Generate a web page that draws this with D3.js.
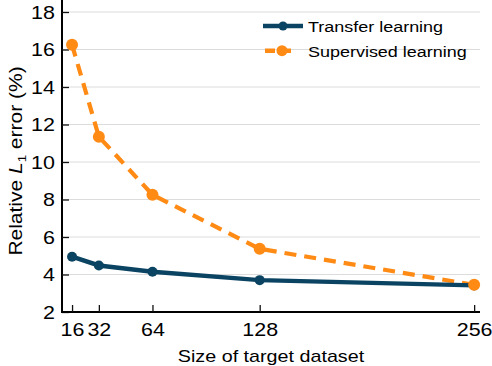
<!DOCTYPE html>
<html>
<head>
<meta charset="utf-8">
<script src="https://cdn.jsdelivr.net/npm/d3@7"></script>
<style>
  body { margin: 0; background: #fff; }
  text { font-family: "Liberation Sans", Arial, sans-serif; }
</style>
</head>
<body>
<div id="chart"></div>
<script>
// data
var sizes = [16, 32, 64, 128, 256];
var transfer = [4.95, 4.48, 4.15, 3.7, 3.42];
var supervised = [16.25, 11.35, 8.25, 5.37, 3.45];
var yTicks = [2, 4, 6, 8, 10, 12, 14, 16, 18];
var seriesNames = ["Transfer learning", "Supervised learning"];

var width = 492, height = 366;
var margin = {left: 62, right: 12, top: 4, bottom: 54};
var stretch = 1.13; // the original font is wider than Arial

var svg = d3.select("#chart").append("svg")
    .attr("width", width)
    .attr("height", height);

var x = d3.scaleLinear().domain([10, 259.5]).range([margin.left, width - margin.right]);
var y = d3.scaleLinear().domain([2, 18]).range([height - margin.bottom, 12]);

// grid
svg.append("g")
    .selectAll("line")
    .data(yTicks.slice(1))
    .enter().append("line")
    .attr("x1", margin.left)
    .attr("x2", width - margin.right)
    .attr("y1", function(d){ return y(d); })
    .attr("y2", function(d){ return y(d); })
    .attr("stroke", "#dcdcdc")
    .attr("stroke-width", 1);

// axes, ticks pointing inward
var yAxis = svg.append("g")
    .attr("transform", "translate(" + margin.left + ",0)")
    .call(d3.axisLeft(y).tickValues(yTicks).tickSizeInner(-7).tickSizeOuter(0).tickPadding(7));
var xAxis = svg.append("g")
    .attr("transform", "translate(0," + y(2) + ")")
    .call(d3.axisBottom(x).tickValues(sizes).tickSizeInner(-7).tickSizeOuter(0).tickPadding(11));

[xAxis, yAxis].forEach(function(a){
    a.select(".domain").attr("stroke", "#000").attr("stroke-width", 2);
    a.selectAll(".tick line").attr("stroke", "#111").attr("stroke-width", 1.3);
    a.selectAll(".tick text")
        .attr("fill", "#000")
        .style("font-size", "19px")
        .style("font-family", "'Liberation Sans', Arial, sans-serif");
});
yAxis.selectAll(".tick text")
    .attr("x", -7 / stretch)
    .attr("transform", "scale(" + stretch + ",1)");
xAxis.selectAll(".tick text")
    .attr("transform", "scale(" + stretch + ",1)");
// domain line reaches the top of the plot
yAxis.select(".domain").attr("d", "M0," + y(2) + "V0");
xAxis.select(".domain").attr("d", "M" + (margin.left - 1) + ",0H" + (width - margin.right));

// axis labels
svg.append("text")
    .attr("transform", "translate(271,362) scale(1.16,1)")
    .attr("text-anchor", "middle")
    .style("font-size", "17px")
    .text("Size of target dataset");

var yl = svg.append("text")
    .attr("transform", "translate(22,161) rotate(-90) scale(1.2,1)")
    .attr("text-anchor", "middle")
    .style("font-size", "17.5px");
yl.append("tspan").text("Relative ");
yl.append("tspan").style("font-style", "italic").text("L");
yl.append("tspan").attr("dy", 4).style("font-size", "11px").text("1");
yl.append("tspan").attr("dy", -4).text(" error (%)");

var line = d3.line()
    .x(function(d, i){ return x(sizes[i]); })
    .y(function(d){ return y(d); });

var series = [
    {name: seriesNames[0], values: transfer, color: "#0b4462", dash: null, r: 5, w: 4.5},
    {name: seriesNames[1], values: supervised, color: "#ff8a14", dash: "12,8", r: 6, w: 4.2}
];

series.slice().reverse().forEach(function(s){
    svg.append("path")
        .datum(s.values)
        .attr("d", line)
        .attr("fill", "none")
        .attr("stroke", s.color)
        .attr("stroke-width", s.w)
        .attr("stroke-dasharray", s.dash);
});
series.forEach(function(s){
    svg.append("g").selectAll("circle")
        .data(s.values)
        .enter().append("circle")
        .attr("cx", function(d, i){ return x(sizes[i]); })
        .attr("cy", function(d){ return y(d); })
        .attr("r", s.r)
        .attr("fill", s.color);
});

// legend
var legend = svg.append("g").attr("transform", "translate(263,26)");
series.forEach(function(s, i){
    var g = legend.append("g").attr("transform", "translate(0," + (i * 24.7) + ")");
    g.append("line")
        .attr("x1", i === 0 ? 0 : 2).attr("x2", i === 0 ? 40 : 34)
        .attr("stroke", s.color)
        .attr("stroke-width", 4.5)
        .attr("stroke-dasharray", i === 0 ? null : "10,6");
    g.append("circle").attr("cx", i === 0 ? 20 : 19).attr("r", s.r - 0.5).attr("fill", s.color);
    g.append("text")
        .attr("transform", "translate(45,6) scale(1.16,1)")
        .style("font-size", "15.5px")
        .text(s.name);
});
</script>
</body>
</html>
